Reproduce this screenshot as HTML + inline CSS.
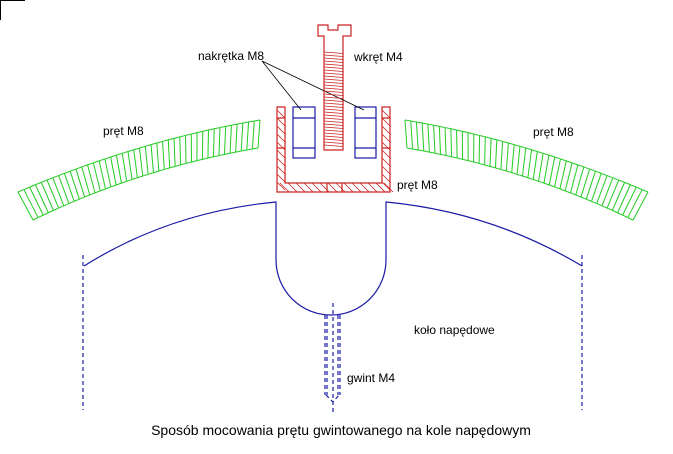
<!DOCTYPE html>
<html><head><meta charset="utf-8"><style>
html,body{margin:0;padding:0;background:#fff;width:673px;height:454px;overflow:hidden}
text{font-family:"Liberation Sans",sans-serif;font-size:12px;fill:#000}
</style></head><body>
<svg id="s" width="673" height="454" viewBox="0 0 673 454" xmlns="http://www.w3.org/2000/svg">
<path d="M0.5 20V0.5H25" stroke="#000" fill="none"/>
<g stroke="#1a1aa6" fill="none" stroke-width="1.2">
<path d="M84 266 Q170 212 276 202 V260 A55 55 0 0 0 386 260 V202 Q492 212 582 266"/>
<g stroke-dasharray="4,3">
<line x1="83" y1="255" x2="83" y2="410"/><line x1="582" y1="255" x2="582" y2="410"/>
<line x1="333" y1="303" x2="333" y2="412"/>
<path d="M325 315V395M327 315V395M338 315V395M340 315V395M326 395L333 402L339 395"/>
</g></g>
<g id="green" stroke="#22cc22" fill="none" stroke-width="1"></g>
<g stroke="#cc2222" fill="none" stroke-width="1.2">
<path d="M318 25H328V30H338V25H351V36H343V150H324V36H318Z"/>
<path d="M277 107H285V183H382V107H390V192H277Z"/>
<path d="M277 118H285M277 148H285M382 118H390M382 148H390M327 183V192M342 183V192"/>
<g id="red" stroke-width="0.8"></g>
</g>
<g stroke="#1a1aa6" fill="none" stroke-width="1.2">
<rect x="293" y="107" width="22" height="51"/><path d="M293 118H315M293 148H315"/>
<rect x="355" y="107" width="21" height="51"/><path d="M355 118H376M355 148H376"/>
</g>
<path d="M262 61L301 110M262 61L364 110" stroke="#000" fill="none" stroke-width="0.8"/>
<text x="198" y="60">nakrętka M8</text>
<text x="354" y="61">wkręt  M4</text>
<text x="103" y="135">pręt  M8</text>
<text x="533" y="136">pręt  M8</text>
<text x="397" y="189">pręt  M8</text>
<text x="414" y="334">koło napędowe</text>
<text x="347" y="382">gwint M4</text>
<text x="341" y="435" text-anchor="middle" style="font-size:14px">Sposób mocowania prętu gwintowanego na kole napędowym</text>
</svg>
<script>
var ns="http://www.w3.org/2000/svg";
function ln(g,x1,y1,x2,y2){var l=document.createElementNS(ns,"line");l.setAttribute("x1",x1);l.setAttribute("y1",y1);l.setAttribute("x2",x2);l.setAttribute("y2",y2);g.appendChild(l);}
function q(p0,p1,p2,t){var u=1-t;return [u*u*p0[0]+2*u*t*p1[0]+t*t*p2[0],u*u*p0[1]+2*u*t*p1[1]+t*t*p2[1]];}
var g=document.getElementById("green");
function bar(a0,a1,a2,b0,b1,b2){var n=42,pa=null,pb=null;for(var i=0;i<=n;i++){var t=i/n,A=q(a0,a1,a2,t),B=q(b0,b1,b2,t);ln(g,A[0],A[1],B[0],B[1]);if(pa){ln(g,pa[0],pa[1],A[0],A[1]);ln(g,pb[0],pb[1],B[0],B[1]);}pa=A;pb=B;}}
bar([18,192],[140,140],[260,120],[33,220],[140,168],[258,148]);
bar([405,120],[525,140],[648,192],[407,148],[525,168],[633,220]);
var s=document.getElementById("s"),th=document.createElementNS(ns,"g");th.setAttribute("stroke","#cc2222");th.setAttribute("stroke-width","0.8");s.appendChild(th);
for(var y=52;y<148;y+=3)ln(th,324,y,343,y+1.5);
var r=document.getElementById("red");
for(var y=110;y<183;y+=8){ln(r,277,y,285,y+8);ln(r,382,y,390,y+8);}
for(var x=280;x<390;x+=8)ln(r,x,183,x+9,192);
</script>
</body></html>
